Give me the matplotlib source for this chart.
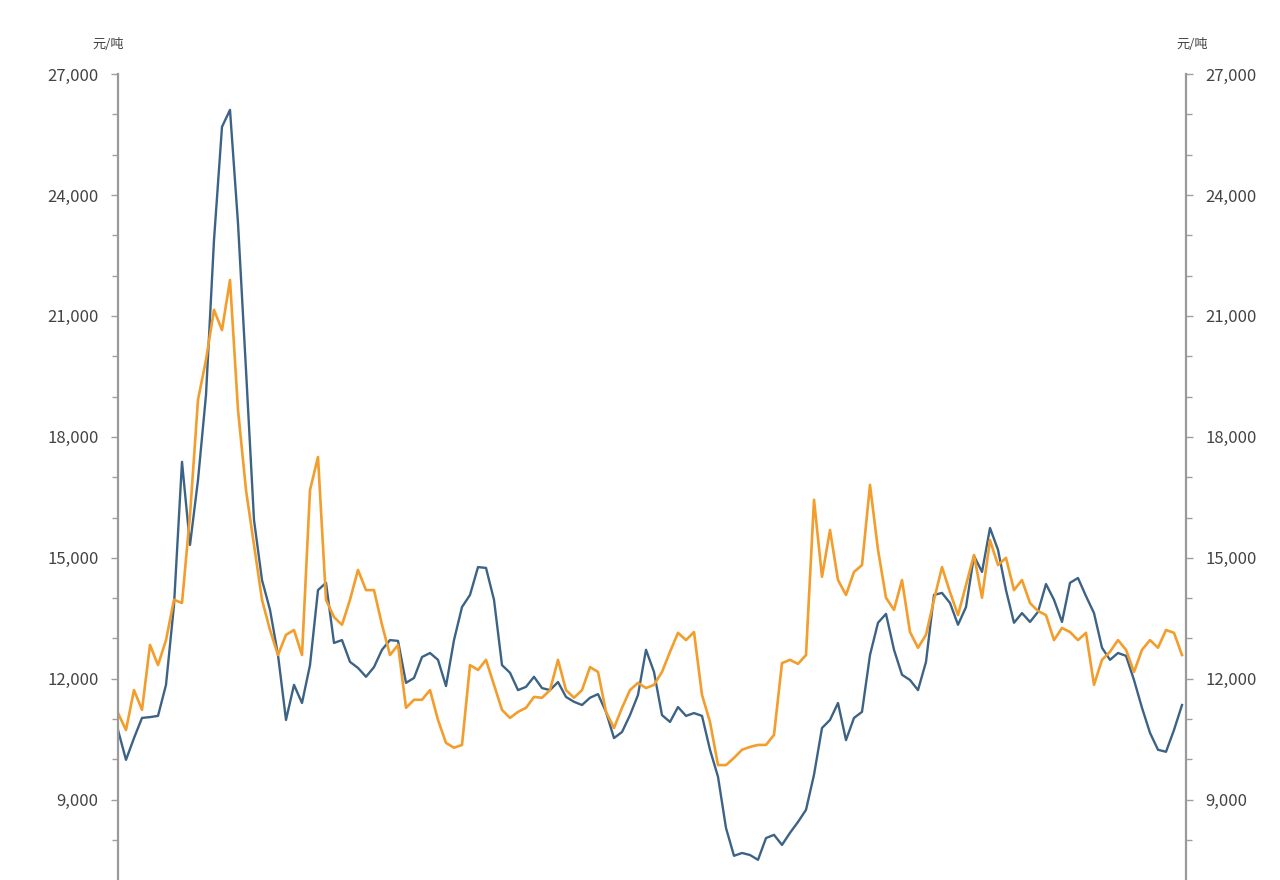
import matplotlib
matplotlib.use("Agg")
import matplotlib.pyplot as plt
from matplotlib.ticker import MultipleLocator, FuncFormatter
import numpy as np

plt.rcParams['font.family'] = ['Noto Sans CJK SC', 'DejaVu Sans']

unit_label = "元/吨"
yticks = [9000, 12000, 15000, 18000, 21000, 24000, 27000]

# weekly price series (元/吨)
blue_series = [
    10730, 9990, 10530, 11030, 11050, 11080, 11850, 13830, 17380, 15320,
    16930, 19040, 22880, 25690, 26110, 23300, 19660, 15940, 14450, 13710,
    12590, 10980, 11850, 11400, 12340, 14200, 14380, 12890, 12960, 12420,
    12270, 12050, 12290, 12720, 12960, 12940, 11900, 12020, 12540, 12640,
    12470, 11820, 12960, 13780, 14080, 14770, 14750, 13960, 12340, 12150,
    11720, 11800, 12050, 11770, 11720, 11920, 11550, 11430, 11350, 11530,
    11620, 11180, 10530, 10680, 11100, 11600, 12720, 12170, 11100, 10930,
    11300, 11080, 11150, 11080, 10240, 9570, 8300, 7610, 7680, 7630,
    7510, 8050, 8130, 7880, 8180, 8450, 8750, 9620, 10780, 10980,
    11400, 10480, 11030, 11180, 12590, 13390, 13610, 12720, 12100, 11970,
    11720, 12420, 14080, 14130, 13880, 13340, 13780, 15050, 14650, 15740,
    15200, 14200, 13390, 13630, 13410, 13660, 14350, 13960, 13410, 14380,
    14500, 14050, 13630, 12770, 12470, 12640, 12570, 11970, 11280, 10660,
    10240, 10190, 10730, 11350,
]

orange_series = [
    11150, 10730, 11720, 11230, 12840, 12340, 12960, 13960, 13880, 16060,
    18920, 19910, 21150, 20650, 21890, 18670, 16680, 15320, 13960, 13210,
    12590, 13090, 13210, 12590, 16680, 17500, 13960, 13530, 13340, 13960,
    14700, 14200, 14200, 13340, 12590, 12840, 11280, 11480, 11480, 11720,
    10980, 10410, 10290, 10360, 12340, 12220, 12470, 11850, 11230, 11030,
    11180, 11280, 11550, 11530, 11720, 12470, 11720, 11530, 11720, 12290,
    12170, 11180, 10780, 11280, 11720, 11900, 11770, 11850, 12170, 12670,
    13140, 12960, 13160, 11600, 10930, 9860, 9860, 10040, 10240, 10310,
    10360, 10360, 10610, 12390, 12470, 12370, 12590, 16440, 14530, 15690,
    14450, 14080, 14650, 14820, 16810, 15200, 14010, 13710, 14450, 13160,
    12770, 13090, 13960, 14770, 14150, 13580, 14330, 15070, 14010, 15440,
    14820, 15000, 14200, 14450, 13880, 13680, 13580, 12960, 13260, 13160,
    12960, 13140, 11850, 12470, 12670, 12960, 12720, 12170, 12720, 12960,
    12770, 13210, 13140, 12590,
]

blue_color = "#3c6385"
orange_color = "#f29d2c"

fig = plt.figure(figsize=(12.8, 8.8), dpi=100, facecolor="white")
ax = fig.add_axes([118 / 1280, 0.0, (1186 - 118) / 1280, (880 - 74) / 880])
ax.set_facecolor("white")

xb = np.arange(len(blue_series))
xo = np.arange(len(orange_series))
ax.plot(xb, blue_series, color=blue_color, lw=1.7, solid_joinstyle="round")
ax.plot(xo, orange_series, color=orange_color, lw=1.9, solid_joinstyle="round")

ax.set_xlim(0, max(len(blue_series), len(orange_series)) - 0.5)
ax.set_ylim(7010, 27000)

for s in ["top", "bottom"]:
    ax.spines[s].set_visible(False)
for s in ["left", "right"]:
    ax.spines[s].set_color("#9a9a9a")
    ax.spines[s].set_linewidth(1.6)

ax.set_yticks(yticks)
ax.yaxis.set_minor_locator(MultipleLocator(1000))
ax.yaxis.set_major_formatter(FuncFormatter(lambda v, p: f"{int(v):,}"))
ax.tick_params(axis="y", which="both", left=True, right=True,
               labelleft=True, labelright=True, direction="out",
               color="#a0a0a0", labelcolor="#444444", labelsize=12)
ax.tick_params(axis="y", which="major", length=5, width=1, pad=9)
ax.tick_params(axis="y", which="minor", length=4, width=1)
ax.tick_params(axis="x", which="both", bottom=False, labelbottom=False)

fig.text(108 / 1280, 1 - 45 / 880, unit_label, ha="center", va="center",
         fontsize=9.5, color="#444444")
fig.text(1192 / 1280, 1 - 45 / 880, unit_label, ha="center", va="center",
         fontsize=9.5, color="#444444")

fig.savefig("out.png", dpi=100, facecolor="white")
